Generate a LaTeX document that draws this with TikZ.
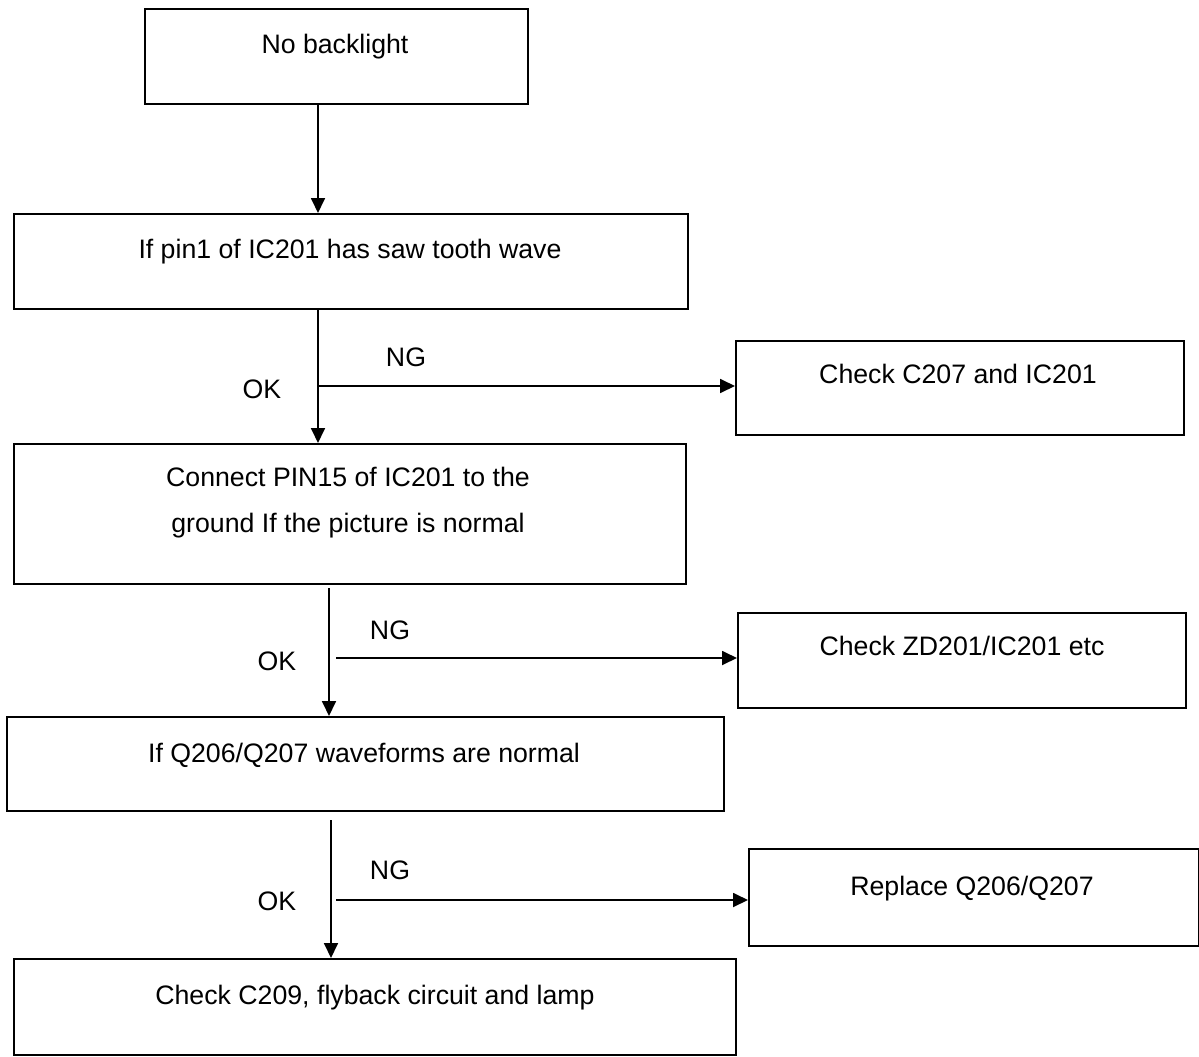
\documentclass[tikz,border=0pt]{standalone}
\usepackage{fontspec}
\setmainfont{Liberation Sans}
\usetikzlibrary{arrows.meta}
\begin{document}
\begin{tikzpicture}[x=1pt,y=-1pt,
  box/.style={draw,line width=1.8pt,inner sep=0pt,anchor=north west},
  txt/.style={anchor=base,inner sep=0pt,font=\fontsize{26.7}{32}\selectfont},
  arr/.style={line width=1.8pt,-{Triangle[length=15pt,width=14pt]}},
  ln/.style={line width=1.8pt}]
\useasboundingbox (0,0) rectangle (1199,1057);
% boxes
\node[box,minimum width=383pt,minimum height=95pt] (b1) at (144,8) {};
\node[box,minimum width=674pt,minimum height=95pt] (b2) at (13,213) {};
\node[box,minimum width=448pt,minimum height=94pt] (b3) at (735,340) {};
\node[box,minimum width=672pt,minimum height=140pt] (b4) at (13,443) {};
\node[box,minimum width=448pt,minimum height=95pt] (b5) at (737,612) {};
\node[box,minimum width=717pt,minimum height=94pt] (b6) at (6,716) {};
\node[box,minimum width=450pt,minimum height=97pt] (b7) at (748,848) {};
\node[box,minimum width=722pt,minimum height=96pt] (b8) at (13,958) {};
% texts
\node[txt] (t1) at (335,53) {No backlight};
\node[txt] (t2) at (350,258) {If pin1 of IC201 has saw tooth wave};
\node[txt] (t3) at (958,383) {Check C207 and IC201};
\node[txt] (t4a) at (348,486) {Connect PIN15 of IC201 to the};
\node[txt] (t4b) at (348,532) {ground If the picture is normal};
\node[txt] (t5) at (962,655) {Check ZD201/IC201 etc};
\node[txt] (t6) at (364,762) {If Q206/Q207 waveforms are normal};
\node[txt] (t7) at (972,895) {Replace Q206/Q207};
\node[txt] (t8) at (375,1004) {Check C209, flyback circuit and lamp};
% labels
\node[txt] (ng1) at (406,366) {NG};
\node[txt] (ok1) at (262,398) {OK};
\node[txt] (ng2) at (390,639) {NG};
\node[txt] (ok2) at (277,670) {OK};
\node[txt] (ng3) at (390,879) {NG};
\node[txt] (ok3) at (277,910) {OK};
% connector coordinates
\coordinate (x1) at (318,0);
\coordinate (x2) at (329,0);
\coordinate (x3) at (331,0);
\coordinate (j1) at (318,386);
\coordinate (j2) at (336,658);
\coordinate (j3) at (336,900);
\coordinate (s2) at (329,588);
\coordinate (s3) at (331,820);
% connectors
\draw[arr] (b1.south -| x1) -- (b2.north -| x1);
\draw[arr] (b2.south -| x1) -- (b4.north -| x1);
\draw[arr] (j1) -- (j1 -| b3.west);
\draw[arr] (s2) -- (b6.north -| x2);
\draw[arr] (j2) -- (j2 -| b5.west);
\draw[arr] (s3) -- (b8.north -| x3);
\draw[arr] (j3) -- (j3 -| b7.west);
\end{tikzpicture}
\end{document}
